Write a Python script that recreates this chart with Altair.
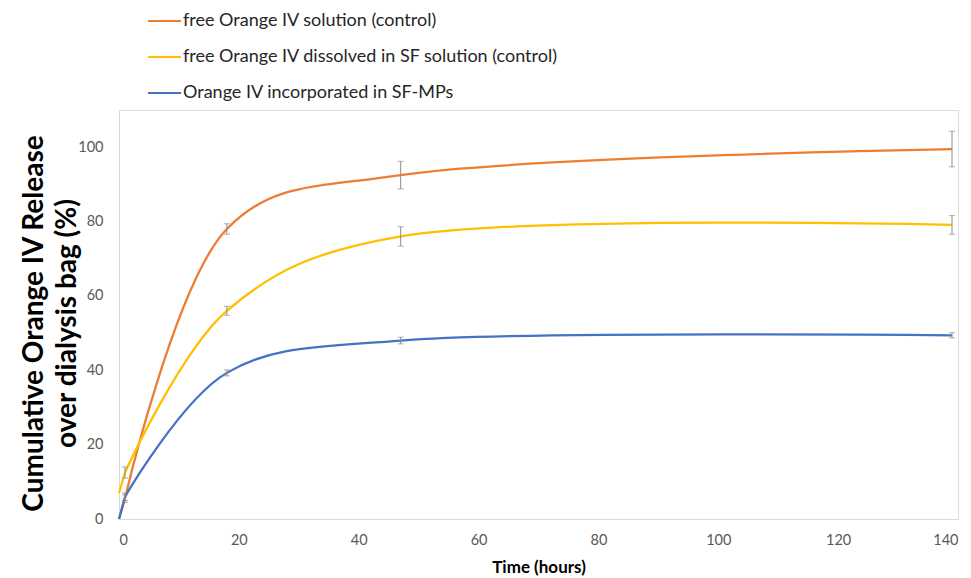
import altair as alt
import pandas as pd

# ---- data ----
times = [0, 1, 18, 47, 139]
series_names = [
    "free Orange IV solution (control)",
    "free Orange IV dissolved in SF solution (control)",
    "Orange IV incorporated in SF-MPs",
]
orange_vals = [0, 5.5, 78, 92.5, 99.5]
orange_err = [0, 1.0, 1.4, 3.7, 4.8]
yellow_vals = [7, 12.5, 56, 76, 79.1]
yellow_err = [0, 1.5, 1.2, 2.6, 2.5]
blue_vals = [0, 6, 39.3, 48, 49.4]
blue_err = [0, 1.0, 0.8, 0.9, 0.7]
colors = ["#ED7D31", "#FFC000", "#4472C4"]

x_ticks = [0, 20, 40, 60, 80, 100, 120, 140]
y_ticks = [0, 20, 40, 60, 80, 100]

FONT = "Lato"

rows = []
for i, (name, vals, errs) in enumerate(zip(series_names,
                                           [orange_vals, yellow_vals, blue_vals],
                                           [orange_err, yellow_err, blue_err])):
    for t, v, e in zip(times, vals, errs):
        rows.append({"series": name, "order": i, "time": t, "value": v,
                     "lo": v - e, "hi": v + e, "err": e})
df = pd.DataFrame(rows)
err_df = df[df["err"] > 0]

color_scale = alt.Scale(domain=series_names, range=colors)
x_scale = alt.Scale(domain=[0, 140], nice=False)
y_scale = alt.Scale(domain=[0, 110], nice=False)

x_enc = alt.X("time:Q", scale=x_scale,
              axis=alt.Axis(values=x_ticks, title="Time (hours)", grid=False,
                            ticks=False, tickSize=0, labelPadding=14,
                            labelFontSize=14.5, labelColor="#595959", labelFont=FONT,
                            domainColor="#D9D9D9", titleFont=FONT, titleFontSize=17,
                            titleFontWeight="bold", titleColor="#000000",
                            titleY=48, titleBaseline="middle"))
y_enc = alt.Y("value:Q", scale=y_scale,
              axis=alt.Axis(values=y_ticks,
                            title=["Cumulative Orange IV Release", "over dialysis bag (%)"],
                            grid=False, ticks=False, tickSize=0, labelPadding=16,
                            labelFontSize=14.5, labelColor="#595959", labelFont=FONT,
                            domainColor="#D9D9D9", titleFont=FONT, titleFontSize=28,
                            titleFontWeight="bold", titleColor="#000000",
                            titleLineHeight=33, titleX=-85, titleY=213,
                            titleBaseline="middle", titleAngle=270))
col_enc = alt.Color("series:N", scale=color_scale, legend=None)

# smooth curve from the first measured time on, short linear start from t=0
smooth = alt.Chart(df[df["time"] >= 1]).mark_line(
    interpolate="catmull-rom", tension=0.3, strokeWidth=2.3).encode(
    x=x_enc, y=y_enc, color=col_enc, detail="order:N", order="time:Q")
start = alt.Chart(df[df["time"] <= 1]).mark_line(
    interpolate="linear", strokeWidth=2.3).encode(
    x="time:Q", y="value:Q", color=col_enc, detail="order:N", order="time:Q")

err_base = alt.Chart(err_df)
err_rules = err_base.mark_rule(color="#8C8C8C", strokeWidth=1).encode(
    x="time:Q", y="lo:Q", y2="hi:Q")
err_lo = err_base.mark_tick(orient="horizontal", color="#8C8C8C", size=6,
                            thickness=1).encode(x="time:Q", y="lo:Q")
err_hi = err_base.mark_tick(orient="horizontal", color="#8C8C8C", size=6,
                            thickness=1).encode(x="time:Q", y="hi:Q")

# ---- manual legend at top ----
legend_layers = []
for i, (name, col) in enumerate(zip(series_names, colors)):
    ypix = -89 + 36 * i
    ldf = pd.DataFrame({"label": [name]})
    legend_layers.append(
        alt.Chart(ldf).mark_rule(color=col, strokeWidth=2).encode(
            x=alt.value(29), x2=alt.value(62), y=alt.value(ypix)))
    legend_layers.append(
        alt.Chart(ldf).mark_text(align="left", baseline="middle", font=FONT,
                                 fontSize=18, color="#262626").encode(
            text="label:N", x=alt.value(64), y=alt.value(ypix)))

chart = alt.layer(smooth, start, err_rules, err_lo, err_hi, *legend_layers).properties(
    width=839, height=409,
    padding={"left": 111, "top": 102, "right": 5, "bottom": 57},
    autosize=alt.AutoSizeParams(type="none"),
).configure_view(stroke=None).configure(background="white")

chart.save("out.html", embed_options={"renderer": "svg", "actions": False})
